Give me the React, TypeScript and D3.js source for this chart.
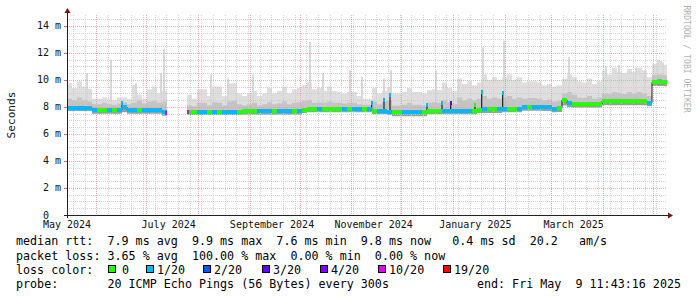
import React from 'react';
import * as d3 from 'd3';

const START = new Date(2024, 4, 14, 11, 43, 16);
const END = new Date(2025, 4, 9, 11, 43, 16);
const BUCKETS = 120;

// median rtt per 3-day bucket (ms)
const median: (number | null)[] = [
  7.95, 7.95, 7.95, 7.95, 7.95,
  7.78, 7.78, 7.78, 7.78, 7.78, 7.78,
  7.97,
  7.78, 7.78, 7.78, 7.78, 7.78, 7.78, 7.78,
  7.62,
  null, null, null, null,
  7.65, 7.65, 7.65, 7.65, 7.65, 7.65, 7.65, 7.65, 7.65, 7.65, 7.65,
  7.68, 7.68, 7.68, 7.68, 7.68, 7.68, 7.68, 7.68, 7.68, 7.68, 7.68, 7.68,
  7.8, 7.85, 7.85, 7.85, 7.85, 7.85, 7.85, 7.85, 7.85, 7.85, 7.85, 7.85, 7.85, 7.85,
  7.72, 7.72, 7.72, 7.65,
  7.6, 7.6, 7.6, 7.6, 7.6, 7.6, 7.6,
  7.72, 7.72, 7.72,
  7.7, 7.7,
  7.72, 7.72, 7.72, 7.72, 7.72,
  7.8,
  7.82, 7.82, 7.82, 7.82,
  7.85, 7.85, 7.85, 7.85,
  8.0, 8.0, 8.0, 8.0, 7.97, 7.97,
  7.86, 7.9,
  8.52,
  8.27,
  8.2, 8.2, 8.2, 8.2, 8.2, 8.2,
  8.42, 8.42, 8.42, 8.42, 8.42, 8.42, 8.42, 8.42, 8.42,
  8.32,
  9.82, 9.88, 9.82,
];

// lost pings (of 20) per bucket
const loss: number[] = [
  1, 1, 1, 1, 1,
  1, 0, 0, 1, 0, 1,
  1,
  1, 1, 0, 1, 1, 1, 1,
  1,
  0, 0, 0, 0,
  0, 0, 1, 1, 0, 1, 0, 1, 1, 1, 0, 0, 0, 0, 1, 1, 1, 0, 1, 1, 1, 0, 1,
  0, 0, 0, 1, 0, 0, 0, 0, 1, 0, 1, 1, 0, 1,
  0, 1, 1, 1,
  0, 0, 1, 1, 1, 1, 0,
  0, 0, 0,
  1, 1,
  1, 1, 1, 1, 0,
  0,
  1, 0, 0, 1,
  1, 0, 0, 1,
  1, 0, 1, 1, 1, 1,
  1, 0,
  0,
  1,
  0, 0, 0, 0, 0, 0,
  0, 0, 0, 0, 0, 0, 0, 0, 0,
  1,
  0, 0, 0,
];

// smoke: lowest ping per bucket
const smokeLo: (number | null)[] = [
  7.7, 7.7, 7.7, 7.7, 7.7,
  7.5, 7.5, 7.5, 7.5, 7.5, 7.5,
  7.6,
  7.5, 7.5, 7.5, 7.5, 7.5, 7.5, 7.5,
  7.35,
  null, null, null, null,
  7.4, 7.4, 7.4, 7.4, 7.4, 7.4, 7.4, 7.4, 7.4, 7.4, 7.4,
  7.42, 7.42, 7.42, 7.42, 7.42, 7.42, 7.42, 7.42, 7.42, 7.42, 7.42, 7.42,
  7.55, 7.6, 7.6, 7.6, 7.6, 7.6, 7.6, 7.6, 7.6, 7.6, 7.6, 7.6, 7.6, 7.6,
  7.45, 7.45, 7.45, 7.4,
  7.3, 7.3, 7.3, 7.3, 7.3, 7.3, 7.3,
  7.45, 7.45, 7.45,
  7.45, 7.45,
  7.45, 7.45, 7.45, 7.45, 7.45,
  7.55,
  7.55, 7.55, 7.55, 7.55,
  7.6, 7.6, 7.6, 7.6,
  7.72, 7.72, 7.72, 7.72, 7.7, 7.7,
  7.6, 7.62,
  8.1,
  8.0,
  7.95, 7.95, 7.95, 7.95, 7.95, 7.95,
  8.12, 8.12, 8.12, 8.12, 8.12, 8.12, 8.12, 8.12, 8.12,
  8.05,
  9.55, 9.55, 9.55,
];

// smoke: upper bound of the dense part per bucket
const smokeMid: (number | null)[] = [
  8.6, 8.5, 8.7, 8.5, 8.4,
  8.2, 8.2, 8.3, 8.2, 8.15, 8.25,
  8.35,
  8.2, 8.3, 8.5, 8.25, 8.4, 8.45, 8.3,
  8.4,
  null, null, null, null,
  8.1, 8.05, 8.3, 8.3, 8.1, 8.35, 8.3, 8.1, 8.4, 8.45, 8.2,
  8.1, 8.2, 8.3, 8.1, 8.2, 8.35, 8.2, 8.25, 8.4, 8.2, 8.3, 8.35,
  8.45, 8.5, 8.3, 8.35, 8.3, 8.4, 8.3, 8.3, 8.25, 8.3, 8.3, 8.2, 8.15, 8.15,
  8.4, 8.2, 8.4, 8.5,
  8.1, 8.1, 8.15, 8.3, 8.15, 8.15, 8.1,
  8.3, 8.35, 8.3,
  8.5, 8.35,
  8.2, 8.7, 8.5, 8.6, 8.5,
  8.6,
  8.8, 8.6, 8.7, 8.6,
  8.7, 8.8, 8.6, 8.7,
  8.6, 8.65, 8.65, 8.6, 8.5, 8.55,
  8.4, 8.45,
  9.0,
  9.1,
  8.9, 8.7, 8.65, 8.8, 8.6, 8.7,
  9.0, 8.95, 9.1, 9.05, 8.95, 9.1, 9.0, 9.1, 9.0,
  8.8,
  10.35, 10.4, 10.35,
];

// smoke: highest ping per bucket
const smokeHi: (number | null)[] = [
  9.75, 9.4, 9.9, 9.5, 9.35,
  8.6, 8.6, 8.7, 8.6, 8.5, 8.7,
  8.7,
  8.6, 9.6, 8.9, 8.6, 9.3, 9.5, 9.0,
  9.2,
  null, null, null, null,
  8.9, 8.6, 9.3, 9.3, 8.8, 9.5, 9.5, 8.8, 9.75, 9.75, 9.0,
  8.8, 9.0, 9.2, 8.8, 9.0, 9.4, 9.0, 9.2, 9.5, 9.0, 9.3, 9.4,
  9.6, 9.8, 9.3, 9.4, 9.2, 9.5, 9.2, 9.1, 9.0, 9.1, 9.1, 8.8, 8.6, 8.6,
  9.4, 9.0, 9.2, 9.4,
  9.0, 9.0, 9.1, 9.4, 9.1, 9.1, 9.0,
  9.25, 9.3, 9.25,
  9.8, 9.4,
  9.2, 10.1, 9.7, 9.9, 9.6,
  9.8,
  10.4, 10.0, 10.2, 10.0,
  10.2, 10.4, 10.0, 10.2,
  9.8, 9.9, 9.9, 9.8, 9.6, 9.7,
  9.5, 9.6,
  10.1,
  10.4,
  10.2, 9.9, 9.8, 10.1, 9.7, 9.9,
  10.7, 10.4, 10.9, 10.6, 10.5, 10.8, 10.6, 10.9, 10.7,
  10.2,
  11.2, 11.4, 11.1,
];

// short median excursions: [days after start, ms, lost pings]
const medianSpikes: [number, number, number][] = [
  [33.0, 8.3, 1], [59.4, 7.58, 10], [72.4, 7.65, 10], [182.8, 8.3, 1],
  [190.2, 8.5, 1], [193.8, 8.9, 1], [216.0, 8.14, 1], [225.0, 8.27, 1],
  [230.2, 8.27, 3], [244.8, 8.14, 0], [248.8, 9.13, 1], [261.4, 9.0, 1],
];

// short smoke peaks: [days after start, ms]
const smokeSpikes: [number, number][] = [
  [11.4, 10.5], [25.8, 11.5], [40.8, 9.75], [55.8, 10.5], [57.6, 12.3],
  [85.8, 10.4], [96.0, 10.1], [111.0, 10.4], [145.2, 12.8], [153.0, 10.5],
  [169.2, 10.7], [176.4, 10.24], [189.6, 10.1], [193.8, 10.7], [220.8, 10.7],
  [249.0, 12.4], [261.6, 12.9], [300.6, 11.7], [322.8, 11.0], [330.6, 11.1],
  [340.8, 10.9], [346.0, 10.7], [354.0, 11.5], [357.0, 11.3],
];

const yTicks = [0, 2, 4, 6, 8, 10, 12, 14];
const yTickLabels = ['0  ', '2 m', '4 m', '6 m', '8 m', '10 m', '12 m', '14 m'];

const lossLevels = [0, 1, 2, 3, 4, 10, 19];
const lossLabels = ['0', '1/20', '2/20', '3/20', '4/20', '10/20', '19/20'];
const lossColors = ['#26ff00', '#00b8ff', '#0059ff', '#5e00ff', '#7e00ff', '#dd00ff', '#ff0000'];
const legendBoxX = [108, 146, 203, 262, 320, 378, 443];

const legendRtt = 'median rtt:  7.9 ms avg  9.9 ms max  7.6 ms min  9.8 ms now   0.4 ms sd  20.2   am/s';
const legendLoss = 'packet loss: 3.65 % avg  100.00 % max  0.00 % min  0.00 % now';
const legendProbe = 'probe:       20 ICMP Echo Pings (56 Bytes) every 300s';
const legendEnd = 'end: Fri May  9 11:43:16 2025';

const DAY = 86400000;
const bucketMs = (END.getTime() - START.getTime()) / BUCKETS;
const tAt = (i: number) => new Date(START.getTime() + i * bucketMs);
const tDay = (d: number) => new Date(START.getTime() + d * DAY);

function lossColor(l: number) {
  let c = lossColors[0];
  lossLevels.forEach((lv, k) => { if (l >= lv) c = lossColors[k]; });
  return c;
}

type P = { t: Date; a: number; b: number } | null;
function stepped(a: (number | null)[], b: (number | null)[]): P[] {
  const out: P[] = [];
  a.forEach((v, i) => {
    const w = b[i];
    if (v == null || w == null) { out.push(null); return; }
    out.push({ t: tAt(i), a: v, b: w }, { t: tAt(i + 1), a: v, b: w });
  });
  return out;
}

const FONT = 'DejaVu Sans Mono';

export default function App() {
  const x = d3.scaleTime().domain([START, END]).range([67, 667]);
  const y = d3.scaleLinear().domain([0, 14.8]).range([215, 15]);
  const X0 = 67, X1 = 667, Y0 = 215, Y1 = 15;

  const area = d3.area<P>()
    .defined((d) => d != null)
    .x((d) => x(d!.t))
    .y0((d) => y(d!.a))
    .y1((d) => y(d!.b));
  const line = d3.line<P>()
    .defined((d) => d != null)
    .x((d) => x(d!.t))
    .y((d) => y(d!.a));

  const minorY = d3.range(0, 14.8, 0.5).filter((v) => v % 2 !== 0);
  const weeks = d3.timeSaturday.range(START, END);
  const months = d3.timeMonth.range(START, END);
  const labelMonths = d3.timeMonth.every(2)!.range(new Date(2024, 4, 1), END)
    .filter((m) => d3.timeDay.offset(m, 15) <= END && d3.timeDay.offset(m, 15) >= START);
  const fmt = d3.timeFormat('%B %Y');
  const px = (v: number) => Math.round(v) + 0.5;

  const bucketIdx = (d: Date) => Math.min(BUCKETS - 1, Math.floor((d.getTime() - START.getTime()) / bucketMs));

  return (
    <svg width={697} height={297} style={{ position: 'absolute', left: 0, top: 0, background: '#fff' }}
      fontFamily={FONT}>
      <rect x={0} y={0} width={697} height={297} fill="#ffffff" />

      {/* smoke */}
      <path d={area(stepped(median, smokeHi)) || ''} fill="#dedede" />
      {smokeSpikes.map(([d, v], k) => {
        const i = bucketIdx(tDay(d));
        const base = median[i] ?? v;
        return <rect key={'ss' + k} x={x(tDay(d))} width={x(tDay(d + 1.2)) - x(tDay(d))}
          y={y(v)} height={y(base) - y(v)} fill="#d8d8d8" />;
      })}
      <path d={area(stepped(median, smokeMid)) || ''} fill="#c4c4c4" />
      <path d={area(stepped(smokeLo, median)) || ''} fill="#9c9c9c" />

      {/* grid */}
      <g shapeRendering="crispEdges">
        {minorY.map((v) => (
          <line key={'my' + v} x1={X0} x2={X1} y1={px(y(v))} y2={px(y(v))}
            stroke="#c8c8c8" strokeOpacity={0.8} strokeDasharray="1,1" />
        ))}
        {weeks.map((w) => (
          <line key={'wk' + w.getTime()} x1={px(x(w))} x2={px(x(w))} y1={Y1} y2={Y0}
            stroke="#c8c8c8" strokeOpacity={0.8} strokeDasharray="1,1" />
        ))}
        {yTicks.filter((v) => v > 0).map((v) => (
          <line key={'My' + v} x1={X0} x2={X1} y1={px(y(v))} y2={px(y(v))}
            stroke="#e89a9a" strokeOpacity={0.8} strokeDasharray="1,1" />
        ))}
        {months.map((m) => (
          <line key={'Mx' + m.getTime()} x1={px(x(m))} x2={px(x(m))} y1={Y1} y2={Y0}
            stroke="#e89a9a" strokeOpacity={0.8} strokeDasharray="1,1" />
        ))}
        {yTicks.map((v) => (
          <line key={'tk' + v} x1={X0 - 3} x2={X0} y1={px(y(v))} y2={px(y(v))} stroke="#e07070" />
        ))}
      </g>

      {/* median line */}
      <path d={line(stepped(median, median)) || ''} fill="none" stroke="#202020" strokeWidth={1} />
      {medianSpikes.map(([d, v], k) => {
        const i = bucketIdx(tDay(d));
        const base = median[i] ?? v;
        const xx = x(tDay(d));
        return <line key={'msl' + k} x1={xx} x2={xx} y1={y(base)} y2={y(v)} stroke="#202020" strokeWidth={1.2} />;
      })}
      <g shapeRendering="crispEdges">
        {median.map((v, i) => v == null ? null : (
          <rect key={'mb' + i} x={x(tAt(i))} width={x(tAt(i + 1)) - x(tAt(i))}
            y={y(v) - 2} height={4} fill={lossColor(loss[i])} />
        ))}
        {medianSpikes.map(([d, v, l], k) => (
          <rect key={'msb' + k} x={x(tDay(d)) - 1} width={2} y={y(v) - 2} height={4} fill={lossColor(l)} />
        ))}
      </g>

      {/* axes */}
      <line x1={X0 - 3} x2={X1 + 3} y1={Y0 + 0.5} y2={Y0 + 0.5} stroke="#202020" shapeRendering="crispEdges" />
      <line x1={X0 + 0.5} x2={X0 + 0.5} y1={Y0 + 3} y2={Y1 - 3} stroke="#202020" shapeRendering="crispEdges" />
      <path d={`M${X1 + 1},${Y0 - 2.5} L${X1 + 6},${Y0 + 0.5} L${X1 + 1},${Y0 + 3.5} Z`} fill="#801010" />
      <path d={`M${X0 - 2.5},${Y1 - 2} L${X0 + 0.5},${Y1 - 7} L${X0 + 3.5},${Y1 - 2} Z`} fill="#801010" />

      {/* y labels */}
      {yTicks.map((v, k) => (
        <text key={'yl' + v} x={61} y={y(v) + 3.5} fontSize={10} textAnchor="end" fill="#111"
          style={{ whiteSpace: 'pre' }} xmlSpace="preserve">{yTickLabels[k]}</text>
      ))}
      {/* x labels */}
      {labelMonths.map((m) => (
        <text key={'xl' + m.getTime()} x={x(d3.timeHour.offset(m, 14 * 24 - 12))} y={228} fontSize={10}
          textAnchor="middle" fill="#111">{fmt(m)}</text>
      ))}

      <text transform="translate(11,115) rotate(-90)" fontSize={11.1} textAnchor="middle"
        dominantBaseline="central" fill="#111">Seconds</text>
      <text transform="translate(687,59) rotate(90)" fontSize={8.1} textAnchor="middle"
        dominantBaseline="central" fill="#b0b0b0">RRDTOOL / TOBI OETIKER</text>

      {/* legend */}
      <g fontSize={11.7} fill="#000" style={{ whiteSpace: 'pre' }}>
        <text x={16} y={245} xmlSpace="preserve">{legendRtt}</text>
        <text x={16} y={259.5} xmlSpace="preserve">{legendLoss}</text>
        <text x={16} y={273.5} xmlSpace="preserve">loss color:</text>
        {lossLabels.map((lab, k) => (
          <g key={'lg' + k}>
            <rect x={legendBoxX[k] + 0.5} y={265.5} width={7} height={7} fill={lossColors[k]} stroke="#000" />
            <text x={legendBoxX[k] + (k === 0 ? 14 : 11)} y={273.5}>{lab}</text>
          </g>
        ))}
        <text x={16} y={288} xmlSpace="preserve">{legendProbe}</text>
        <text x={681} y={288} textAnchor="end" xmlSpace="preserve">{legendEnd}</text>
      </g>
    </svg>
  );
}
